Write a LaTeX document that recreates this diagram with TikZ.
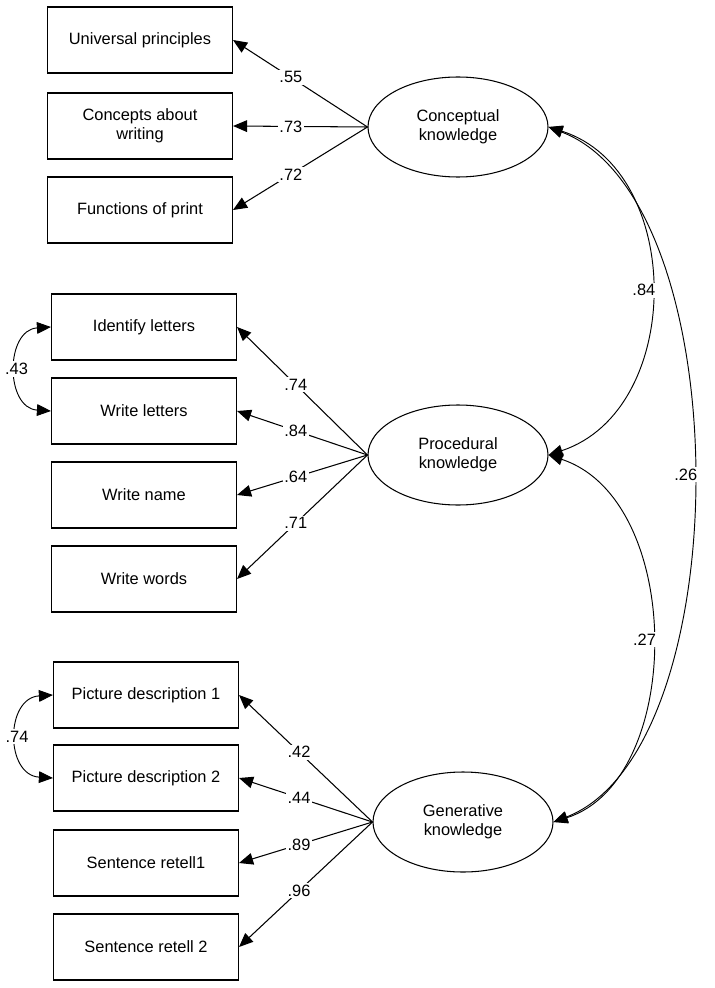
\documentclass[tikz,border=0pt]{standalone}
\usepackage{fontspec}
\setmainfont{Liberation Sans}
\usetikzlibrary{arrows.meta,shapes.geometric}
\begin{document}
\begin{tikzpicture}[x=0.03cm,y=-0.03cm,font=\fontsize{14}{16}\selectfont,
  obs/.style={draw,line width=0.9pt,minimum width=185*0.03cm,minimum height=66*0.03cm,align=center},
  lat/.style={draw,ellipse,line width=0.9pt,minimum width=180*0.03cm,minimum height=100*0.03cm,align=center,inner sep=0pt},
  load/.style={line width=0.9pt,-{Triangle[length=12pt,width=10pt]}},
  cov/.style={line width=0.8pt,{Triangle[length=12pt,width=10pt]}-{Triangle[length=12pt,width=10pt]}},
  val/.style={fill=white,inner sep=1.5pt}]
\useasboundingbox (0,0) rectangle (714,988);
% indicators
\node[obs] (up) at (140,40) {Universal principles};
\node[obs] (cw) at (140,126) {Concepts about\\writing};
\node[obs] (fp) at (140,210) {Functions of print};
\node[obs] (il) at (144,327) {Identify letters};
\node[obs] (wl) at (144,411) {Write letters};
\node[obs] (wn) at (144,495) {Write name};
\node[obs] (ww) at (144,579) {Write words};
\node[obs] (pd1) at (146,695) {Picture description 1};
\node[obs] (pd2) at (146,778) {Picture description 2};
\node[obs] (sr1) at (146,863) {Sentence retell1};
\node[obs] (sr2) at (146,947) {Sentence retell 2};
% factors
\node[lat] (ck) at (458,127) {Conceptual\\knowledge};
\node[lat] (pk) at (458,455) {Procedural\\knowledge};
\node[lat] (gk) at (463,822) {Generative\\knowledge};
% loadings
\draw[load] (ck.west) -- (up.east) node[val,pos=0.57] {.55};
\draw[load] (ck.west) -- (cw.east) node[val,pos=0.57] {.73};
\draw[load] (ck.west) -- (fp.east) node[val,pos=0.57] {.72};
\draw[load] (pk.west) -- (il.east) node[val,pos=0.55] {.74};
\draw[load] (pk.west) -- (wl.east) node[val,pos=0.55] {.84};
\draw[load] (pk.west) -- (wn.east) node[val,pos=0.55] {.64};
\draw[load] (pk.west) -- (ww.east) node[val,pos=0.55] {.71};
\draw[load] (gk.west) -- (pd1.east) node[val,pos=0.55] {.42};
\draw[load] (gk.west) -- (pd2.east) node[val,pos=0.55] {.44};
\draw[load] (gk.west) -- (sr1.east) node[val,pos=0.55] {.89};
\draw[load] (gk.west) -- (sr2.east) node[val,pos=0.55] {.96};
% covariances
\draw[cov] (ck.east) .. controls (685,170) and (685,410) .. (pk.east) node[val,pos=0.5,xshift=-6pt] {.84};
\draw[cov] (pk.east) .. controls (685,500) and (685,780) .. (gk.east) node[val,pos=0.5,xshift=-6pt] {.27};
\draw[cov] (ck.east) .. controls (740,200) and (740,750) .. (gk.east) node[val,pos=0.5,xshift=-6pt] {.26};
\draw[cov] (il.west) .. controls (5,330) and (5,408) .. (wl.west) node[val,pos=0.5] {.43};
\draw[cov] (pd1.west) .. controls (5,698) and (5,775) .. (pd2.west) node[val,pos=0.5] {.74};
\end{tikzpicture}
\end{document}
